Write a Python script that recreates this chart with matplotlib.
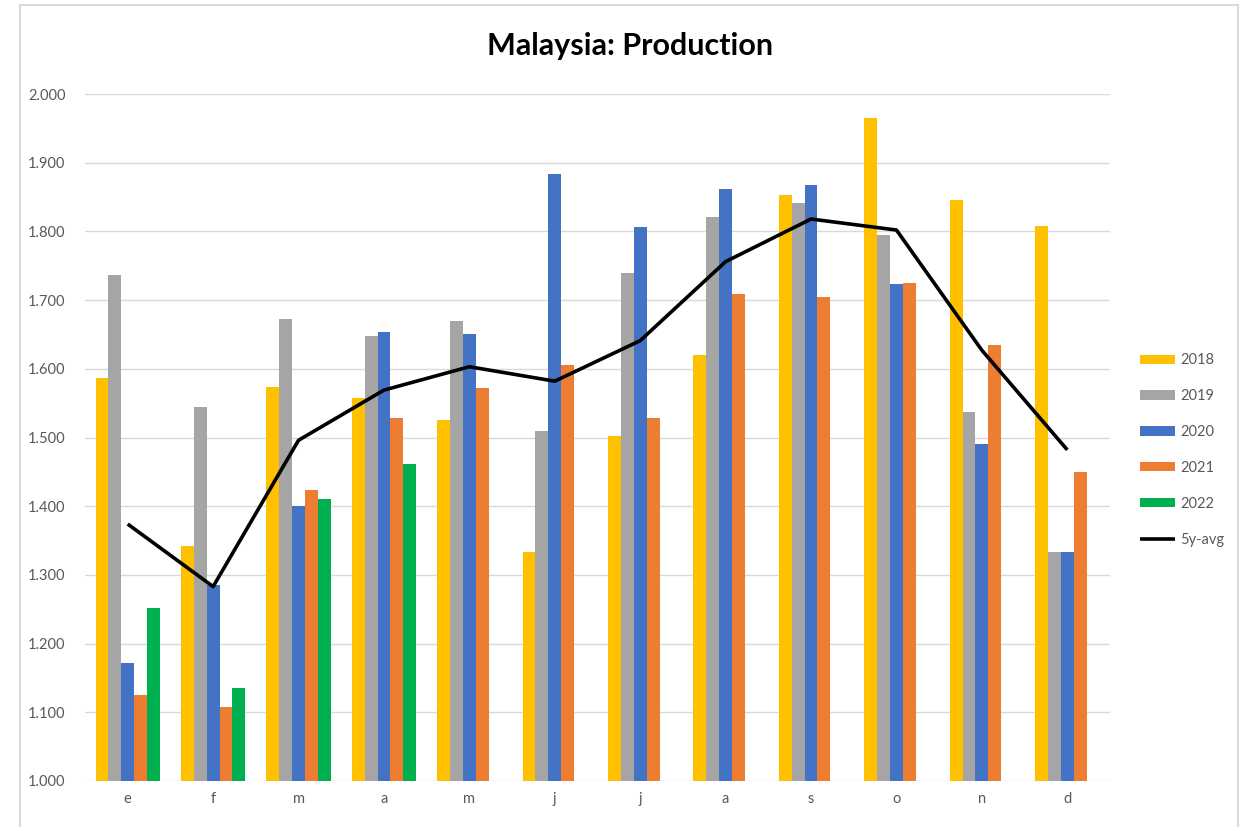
import matplotlib.pyplot as plt
import numpy as np
from matplotlib.patches import Rectangle
from matplotlib.ticker import FuncFormatter, MultipleLocator

plt.rcParams['font.family'] = ['Lato', 'DejaVu Sans']

months = ["e", "f", "m", "a", "m", "j", "j", "a", "s", "o", "n", "d"]
years = ["2018", "2019", "2020", "2021", "2022"]

prod_2018 = [1587, 1342, 1573, 1558, 1525, 1333, 1502, 1620, 1853, 1965, 1845, 1808]
prod_2019 = [1737, 1545, 1672, 1648, 1670, 1510, 1740, 1821, 1841, 1795, 1537, 1333]
prod_2020 = [1172, 1285, 1401, 1653, 1650, 1884, 1806, 1862, 1868, 1724, 1491, 1333]
prod_2021 = [1125, 1108, 1424, 1528, 1572, 1606, 1528, 1709, 1704, 1725, 1635, 1450]
prod_2022 = [1252, 1136, 1410, 1461]
avg_5y = [1374, 1283, 1496, 1569, 1603, 1582, 1641, 1756, 1818, 1802, 1627, 1482]

colors = ["#FFC000", "#A5A5A5", "#4472C4", "#ED7D31", "#00B050"]

fig = plt.figure(figsize=(12.48, 8.27), dpi=100)
ax = fig.add_axes([85 / 1248, 1 - 781 / 827, (1110 - 85) / 1248, (781 - 94) / 827])

x = np.arange(len(months))
w = 0.1506
series = [prod_2018, prod_2019, prod_2020, prod_2021, prod_2022]
handles = []
for i, (vals, c, lab) in enumerate(zip(series, colors, years)):
    xs = x[:len(vals)] + (i - 2) * w
    b = ax.bar(xs, np.array(vals) - 1000, bottom=1000, width=w, color=c, label=lab, zorder=2)
    handles.append(b)

ln, = ax.plot(x, avg_5y, color="black", linewidth=2.6, label="5y-avg", zorder=3,
              solid_joinstyle="round", solid_capstyle="butt")
handles.append(ln)

ax.set_xlim(-0.5, len(months) - 0.5)
ax.set_ylim(1000, 2000)
ax.yaxis.set_major_locator(MultipleLocator(100))
ax.yaxis.set_major_formatter(FuncFormatter(lambda v, p: f"{v:,.0f}".replace(",", ".")))
ax.set_xticks(x)
ax.set_xticklabels(months)
ax.grid(axis="y", color="#D9D9D9", linewidth=1, zorder=0)
for s in ax.spines.values():
    s.set_visible(False)
ax.tick_params(axis="both", length=0, labelsize=10.5, colors="#595959")
ax.tick_params(axis="y", pad=14)
ax.tick_params(axis="x", pad=8)

fig.text(630 / 1248, 1 - 46 / 827, "Malaysia: Production", ha="center", va="center",
         fontsize=22, fontweight="bold", color="black")

fig.legend(handles=handles, labels=years + ["5y-avg"],
           loc="center left", bbox_to_anchor=(1140 / 1248, 1 - 450 / 827), frameon=False,
           borderpad=0, borderaxespad=0, handlelength=2.4, handletextpad=0.35,
           labelspacing=1.5, fontsize=10.5, labelcolor="#595959", handleheight=0.6)

fig.patches.append(Rectangle((20 / 1248, -0.02), (1238 - 20) / 1248, 1 - 5 / 827 + 0.02,
                             transform=fig.transFigure, fill=False,
                             edgecolor="#D9D9D9", linewidth=1.5))

fig.savefig("out.png", dpi=100)
